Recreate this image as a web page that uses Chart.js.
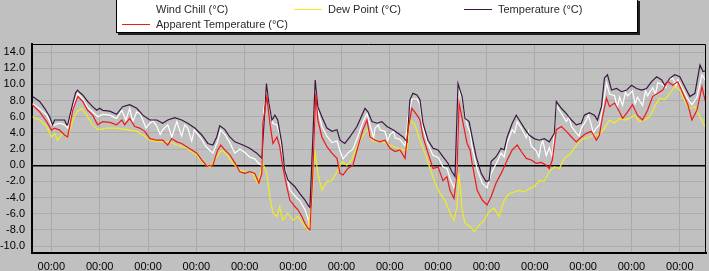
<!DOCTYPE html>
<html>
<head>
<meta charset="utf-8">
<script src="https://cdn.jsdelivr.net/npm/chart.js@4.4.1/dist/chart.umd.min.js"></script>
<style>
  html, body { margin: 0; padding: 0; background: #c0c0c0; }
  #wrap { position: relative; width: 709px; height: 271px; overflow: hidden; }
  #legend {
    position: absolute; left: 116px; top: -1px; width: 520px; height: 32px;
    background: #fff; border: 1px solid #000; box-shadow: 2px 2px 0 #222;
    font: 11px "Liberation Sans", Arial, sans-serif; color: #2a2a2a;
  }
  #legend .item { position: absolute; height: 14px; line-height: 14px; white-space: nowrap; }
  #legend .sw { position: absolute; left: 0; top: 7px; width: 28px; height: 1px; }
  #legend .tx { position: absolute; left: 34px; top: 0; }
</style>
</head>
<body>
<div id="wrap">
  <canvas id="weatherChart" width="709" height="271"></canvas>
  <div id="legend"></div>
</div>
<script>
// hours from the first midnight; values in °C
const tempHours = [-9.3,-5.8,-3.3,-0.8,0.6,1.6,4.1,6.6,7.6,8.1,10.6,12.1,13.1,14.1,15.6,18.0,20.5,22.5,24.0,25.5,29.0,32.4,35.4,38.9,42.4,45.4,48.9,52.4,55.3,57.8,61.3,64.7,67.7,71.2,74.7,77.7,80.2,82.1,83.6,86.1,88.6,91.1,95.1,98.5,102.0,104.5,106.8,108.0,109.5,111.0,112.4,114.4,115.9,117.4,120.9,123.4,125.9,127.9,128.4,131.0,132.3,134.3,136.8,139.3,141.8,143.3,145.7,148.2,151.7,154.2,155.7,157.2,159.2,161.6,164.1,166.6,169.6,172.1,174.6,176.6,178.0,179.5,181.5,183.0,184.5,187.0,189.5,192.0,194.4,196.9,198.9,200.4,201.9,203.9,205.4,207.4,208.9,210.9,213.4,215.8,217.3,218.3,220.8,223.3,224.8,226.3,228.8,230.8,232.3,234.8,237.2,239.7,242.2,244.7,247.2,249.7,250.7,253.2,255.7,258.2,260.6,263.1,264.6,267.1,269.6,271.1,273.1,274.6,276.1,278.1,280.6,283.1,285.6,288.0,290.5,293.0,295.5,298.0,300.5,303.0,304.5,307.0,309.5,312.0,314.5,317.0,319.5,322.0,323.5,326.0];
const temperature = [8.5,7.9,7.05,6.0,5.0,5.6,5.6,5.6,5.0,5.0,7.6,9.0,9.3,9.0,8.7,7.9,7.25,6.8,7.05,6.8,6.7,6.3,7.25,7.5,7.05,6.2,5.6,5.6,5.2,5.6,5.9,5.6,5.2,4.6,3.75,2.7,2.5,3.5,4.9,4.45,3.5,2.9,2.5,2.1,1.5,0.87,10.1,7.7,5.6,6.2,5.6,2.7,-0.6,-1.8,-2.65,-3.5,-4.3,-5.1,-5.2,10.55,7.25,6.0,4.6,4.2,4.4,3.1,2.7,3.5,4.8,6.2,7.05,6.6,5.4,5.2,5.4,4.8,4.4,3.95,3.5,2.9,8.1,8.9,8.7,8.1,5.2,3.1,2.1,1.9,1.06,0.25,-0.8,-1.4,10.1,8.5,5.8,5.4,3.5,1.06,-1.0,-2.0,-1.9,0.45,1.06,2.1,1.9,3.5,5.2,6.2,5.6,4.6,3.75,3.3,3.1,3.3,2.9,3.95,7.9,7.05,6.4,5.6,5.0,5.2,6.2,6.5,6.2,5.6,7.25,10.8,11.2,9.3,9.5,9.1,9.3,9.9,9.5,9.3,9.5,10.35,10.95,10.55,9.9,10.75,11.2,10.95,9.7,8.5,8.9,12.4,11.6,11.8];

const apparentHours = [-9.3,-5.8,-2.3,0.1,1.6,4.1,6.6,8.1,10.6,13.1,15.6,18.0,20.5,23.0,25.5,29.0,32.4,35.0,36.4,38.9,41.4,43.9,46.4,48.9,52.4,55.3,57.8,59.8,62.3,64.7,67.2,69.7,72.2,74.7,77.2,80.2,82.6,84.1,86.1,88.6,91.1,93.6,96.0,98.5,101.0,103.0,104.5,105.0,107.0,108.5,110.0,112.0,113.4,114.9,116.9,118.4,120.9,122.4,124.4,125.9,127.4,128.4,129.8,131.3,132.3,134.3,136.8,139.3,141.8,143.3,144.8,147.2,149.7,152.2,154.7,156.7,158.2,160.7,163.1,165.6,168.1,170.6,173.1,175.6,177.1,179.0,181.5,183.0,184.5,187.0,189.5,192.0,194.4,196.4,197.9,199.9,201.4,202.4,204.4,206.4,207.9,208.9,211.4,213.9,216.3,218.3,220.8,223.3,224.8,226.3,228.8,231.3,233.3,235.8,238.2,240.7,243.2,245.7,247.2,248.7,250.7,253.2,255.7,258.2,260.6,263.1,265.6,268.1,270.6,272.1,273.6,275.6,277.1,279.6,282.1,283.6,286.1,288.5,291.0,293.5,296.0,298.5,301.0,303.5,306.0,308.5,311.0,313.5,316.0,318.0,320.5,323.0,324.5,326.0];
const apparentTemp = [7.45,6.6,5.4,4.35,4.6,4.35,3.75,3.5,6.8,8.5,7.9,6.8,6.2,5.0,5.4,5.3,5.0,5.6,5.0,5.8,4.8,4.6,4.2,3.3,3.1,3.1,2.5,3.3,2.9,2.7,2.3,1.9,1.5,0.65,-0.1,0.0,1.9,2.5,1.9,1.3,0.3,-0.8,-1.0,-0.8,-1.0,-2.2,-1.0,5.2,8.5,5.2,2.7,3.5,2.3,-0.2,-2.65,-4.3,-5.1,-5.5,-6.35,-7.2,-7.8,-8.0,-1.0,8.9,5.6,3.5,2.3,1.5,0.85,-1.0,-1.2,-0.4,0.0,2.3,4.4,5.6,3.5,3.1,2.9,3.1,2.1,1.7,1.9,0.85,4.4,7.05,6.2,5.6,3.5,1.5,-0.4,-0.2,-1.9,-1.4,-3.1,-4.1,-1.0,7.7,5.2,2.7,1.9,0.25,-3.1,-4.3,-4.9,-3.9,-2.2,-1.0,-0.2,0.65,1.9,2.5,1.7,0.85,0.65,0.25,0.35,0.0,-0.4,0.65,4.4,4.8,4.2,3.5,2.9,3.5,3.95,4.2,3.1,3.75,6.0,8.3,7.25,7.7,6.6,5.8,6.6,7.5,6.2,5.6,6.8,8.5,8.9,9.3,10.35,9.9,10.35,8.9,7.5,5.6,6.8,9.7,8.1,8.9];

const dewHours = [-9.3,-5.8,-2.3,0.1,1.6,3.1,5.6,8.1,10.6,12.6,15.1,17.5,20.5,23.0,27.5,32.4,37.4,42.4,45.4,48.9,53.8,58.8,62.3,67.2,72.2,75.2,78.7,82.1,84.6,87.1,90.1,93.6,97.0,100.0,102.5,105.0,107.0,108.5,110.0,112.0,113.4,114.9,117.4,119.9,122.4,124.9,127.4,129.3,130.8,132.3,134.3,136.8,139.3,141.8,144.3,146.7,149.2,151.7,154.2,156.7,159.2,161.6,164.6,168.1,171.6,174.6,176.6,178.0,180.5,183.0,185.5,188.0,190.5,193.0,195.4,197.9,199.9,201.4,202.4,203.9,205.4,207.9,209.9,212.4,214.9,217.3,219.8,222.3,224.8,227.3,229.8,232.3,234.8,237.2,239.7,242.2,244.7,247.2,249.7,252.2,254.7,257.2,259.6,262.1,264.6,267.1,269.6,272.1,274.6,277.1,279.6,282.1,284.6,287.0,289.5,292.0,294.5,297.0,299.5,302.0,304.5,307.0,309.5,312.0,314.5,317.0,319.5,322.0,324.5,326.0];
const dewPoint = [6.0,5.6,4.8,3.5,3.95,3.1,3.95,3.5,5.6,6.6,7.05,6.2,5.0,4.4,4.6,4.6,4.4,4.2,3.75,3.1,2.9,2.9,2.5,2.1,1.3,0.25,-0.2,1.06,1.9,1.3,0.25,-0.6,-0.8,-1.0,-2.2,0.25,-1.0,-3.9,-5.9,-6.35,-5.1,-6.8,-5.9,-6.8,-6.35,-7.2,-8.0,-4.3,1.9,-1.0,-3.1,-2.0,-1.9,-0.8,0.45,0.0,0.65,2.3,3.5,4.4,3.1,2.9,2.9,2.5,2.1,1.9,1.9,5.6,5.0,3.1,1.5,-0.4,-2.2,-3.5,-4.3,-5.9,-6.8,-5.1,-1.0,-5.5,-7.2,-7.6,-8.2,-7.4,-6.8,-5.7,-5.3,-6.35,-4.3,-3.5,-3.3,-3.1,-3.3,-2.9,-2.65,-1.9,-2.0,-0.8,-0.2,-0.4,0.85,1.3,2.1,2.9,3.3,3.5,3.75,3.75,4.6,5.6,5.2,5.8,5.6,5.8,6.2,5.4,5.6,6.0,7.25,8.3,8.1,8.9,9.7,9.3,7.9,7.05,7.25,6.0,4.8,4.4];

const chillHours = [-9.3,-5.8,-2.3,0.1,1.6,4.1,6.6,8.1,10.6,13.1,15.6,18.0,20.5,23.0,25.5,29.0,32.4,35.0,37.0,38.9,40.4,42.4,44.0,45.4,47.0,48.9,50.5,52.4,54.0,55.3,57.8,59.8,62.3,64.7,66.2,67.7,69.7,71.0,72.2,74.7,76.0,77.2,80.2,82.6,84.1,86.1,88.6,91.1,93.6,96.0,98.5,101.0,103.0,104.5,105.5,107.0,108.5,110.0,112.0,113.4,114.9,116.9,118.4,120.9,123.4,125.9,127.4,128.4,129.8,131.3,132.3,134.3,136.8,139.3,141.8,143.3,144.8,147.2,149.7,152.2,154.7,156.7,158.2,160.0,160.7,162.4,163.1,165.6,167.0,168.1,170.0,170.6,173.1,175.6,177.1,179.0,181.5,183.0,184.5,187.0,189.5,192.0,194.4,196.4,197.9,199.9,201.4,202.4,204.4,206.4,207.9,208.9,211.4,213.9,216.3,218.3,220.8,223.3,224.8,226.3,228.8,230.0,231.3,233.3,235.8,236.8,238.2,240.7,242.0,243.2,244.0,245.7,247.2,248.7,250.7,253.2,255.7,257.0,258.2,260.6,262.0,263.1,265.6,266.6,268.1,269.0,270.6,272.1,273.6,275.6,277.1,279.6,281.0,282.1,283.6,285.0,286.1,288.5,289.8,291.0,293.5,295.0,296.0,298.5,300.0,301.0,303.5,305.0,306.0,308.5,310.0,311.0,313.5,316.0,318.0,320.5,323.0,324.5,326.0];
const windChill = [7.6,7.0,6.2,5.0,5.0,5.2,5.0,4.6,7.2,8.9,8.2,7.2,6.6,6.0,6.3,6.2,5.8,6.8,5.6,7.0,5.4,6.6,6.4,5.6,4.6,5.2,5.5,4.8,3.8,4.4,5.0,3.5,5.4,3.6,5.0,4.6,3.0,4.4,4.0,3.2,2.6,2.2,1.5,3.0,4.4,3.8,2.8,1.5,2.0,1.6,1.0,0.8,0.2,0.0,7.0,9.5,6.8,5.2,5.0,3.8,1.2,-1.5,-3.0,-3.8,-4.4,-5.5,-6.6,-7.8,-2.0,9.8,6.8,4.8,3.6,2.8,3.0,1.8,0.8,1.5,2.0,3.6,5.4,6.4,5.0,3.4,4.6,5.0,4.4,4.2,3.0,3.8,4.2,3.4,3.2,2.4,6.0,8.2,8.2,7.6,4.6,2.6,1.2,1.0,-0.2,-0.4,-1.6,-2.8,-1.4,9.6,7.5,5.0,4.0,2.2,-0.5,-2.2,-2.8,-1.0,0.2,1.5,1.0,2.8,4.4,4.0,5.4,4.6,3.4,4.2,2.4,1.8,1.0,2.6,3.0,1.2,2.2,1.0,7.4,6.4,5.4,6.0,4.8,4.0,3.6,4.6,5.6,6.2,5.0,4.0,4.6,5.0,7.0,10.2,8.8,8.6,7.2,8.4,7.4,9.0,8.6,9.2,7.6,8.4,7.4,9.2,8.6,9.6,8.8,10.2,10.0,9.6,10.5,10.8,9.8,10.6,9.4,8.2,7.5,8.4,11.2,10.6,11.0];

const dayTicks = [0,24,48,72,96,120,144,168,192,216,240,264,288,312];
const dayLabel = '00:00';
const yTickValues = [-10,-8,-6,-4,-2,0,2,4,6,8,10,12,14];

const toPoints = (hours, vals) => hours.map((h, i) => ({ x: h, y: vals[i] }));

const series = [
  { label: 'Wind Chill (°C)', color: '#ffffff', hours: chillHours, vals: windChill, order: 3, left: 5, row: 0 },
  { label: 'Dew Point (°C)', color: '#f0ec20', hours: dewHours, vals: dewPoint, order: 2, left: 177, row: 0 },
  { label: 'Temperature (°C)', color: '#3a1840', hours: tempHours, vals: temperature, order: 1, left: 347, row: 0 },
  { label: 'Apparent Temperature (°C)', color: '#f01818', hours: apparentHours, vals: apparentTemp, order: 0, left: 5, row: 1 }
];

// legend drawn as html, same layout as the original box
const legendEl = document.getElementById('legend');
series.forEach(s => {
  const item = document.createElement('div');
  item.className = 'item';
  item.style.left = s.left + 'px';
  item.style.top = (2 + s.row * 15) + 'px';
  const swColor = s.color === '#ffffff' ? 'transparent' : s.color;
  item.innerHTML = '<span class="sw" style="background:' + swColor + '"></span><span class="tx">' + s.label + '</span>';
  legendEl.appendChild(item);
});

const frame = {
  id: 'frame',
  afterDraw(chart) {
    const { ctx, chartArea: a } = chart;
    ctx.save();
    ctx.strokeStyle = '#000';
    ctx.lineWidth = 1;
    ctx.beginPath();
    ctx.moveTo(a.left, a.top + 0.5);
    ctx.lineTo(a.right - 0.5, a.top + 0.5);
    ctx.lineTo(a.right - 0.5, a.bottom);
    ctx.stroke();
    ctx.restore();
  }
};

new Chart(document.getElementById('weatherChart'), {
  type: 'line',
  data: {
    datasets: series.map(s => ({
      label: s.label,
      data: toPoints(s.hours, s.vals),
      borderColor: s.color,
      borderWidth: 1.2,
      pointRadius: 0,
      tension: 0,
      fill: false,
      order: s.order
    }))
  },
  options: {
    responsive: false,
    animation: false,
    events: [],
    layout: { padding: { top: 44, right: 3, left: 0, bottom: 0 } },
    plugins: { legend: { display: false }, tooltip: { enabled: false } },
    scales: {
      x: {
        type: 'linear',
        min: -9.6,
        max: 325,
        afterBuildTicks: scale => { scale.ticks = dayTicks.map(v => ({ value: v })); },
        afterFit: scale => { scale.height = 18; },
        grid: { color: '#a9a9a9', drawTicks: false },
        border: { color: '#000', width: 2 },
        ticks: {
          padding: 7,
          maxRotation: 0,
          autoSkip: false,
          color: '#000',
          font: { family: '"Liberation Sans", Arial, sans-serif', size: 11 },
          callback: () => dayLabel
        }
      },
      y: {
        min: -10.85,
        max: 15,
        afterBuildTicks: scale => { scale.ticks = yTickValues.map(v => ({ value: v })); },
        afterFit: scale => { scale.width = 32; },
        grid: {
          color: ctx => ctx.tick && ctx.tick.value === 0 ? '#000' : '#adadad',
          lineWidth: ctx => ctx.tick && ctx.tick.value === 0 ? 1.5 : 1,
          drawTicks: false
        },
        border: { color: '#000', width: 2 },
        ticks: {
          padding: 7,
          color: '#000',
          font: { family: '"Liberation Sans", Arial, sans-serif', size: 11 },
          callback: v => v.toFixed(1)
        }
      }
    }
  },
  plugins: [frame]
});
</script>
</body>
</html>
